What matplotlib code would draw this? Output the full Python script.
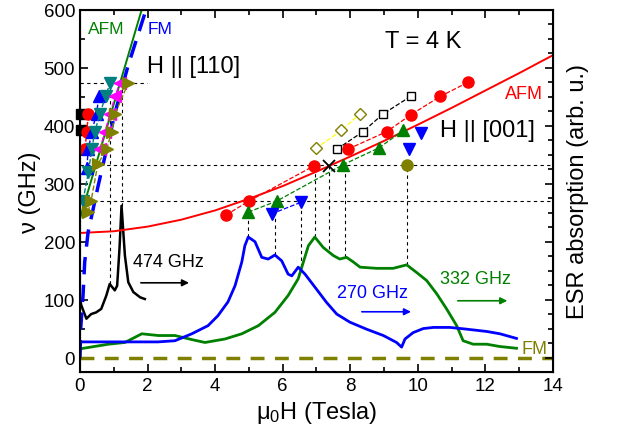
import numpy as np
import matplotlib.pyplot as plt
from matplotlib.ticker import MultipleLocator, AutoMinorLocator

plt.rcParams['font.family'] = ['Liberation Sans', 'DejaVu Sans']
plt.rcParams['mathtext.fontset'] = 'custom'
plt.rcParams['mathtext.rm'] = 'Liberation Sans'
plt.rcParams['mathtext.it'] = 'Liberation Sans'

# ---- ESR spectra (arb. u., same scale as frequency axis) ----
spec474_H = [0, 0.04, 0.19, 0.33, 0.48, 0.63, 0.78, 0.88, 1.03, 1.10, 1.17, 1.23, 1.33, 1.43, 1.58, 1.78, 1.92]
spec474_A = [101, 90, 67, 75, 78, 84, 107, 127, 116, 124, 188, 262, 176, 130, 113, 104, 101]

spec270_H = [0, 2.31, 2.81, 3.31, 3.79, 4.08, 4.38, 4.59, 4.79, 4.88, 4.98, 5.18, 5.38, 5.57,
             5.77, 5.97, 6.16, 6.27, 6.46, 6.66, 7.00, 7.30, 7.60, 7.99, 8.48, 8.98, 9.37,
             9.52, 9.62, 9.86, 10.16, 10.46, 10.95, 11.44, 12.04, 12.43, 12.92]
spec270_A = [27, 27, 29, 41, 55, 72, 96, 124, 165, 193, 208, 200, 173, 170,
             177, 167, 144, 141, 156, 144, 118, 95, 75, 61, 49, 38, 26,
             18, 32, 43, 50, 52, 52, 49, 45, 41, 33]

spec332_H = [0, 0.84, 1.33, 1.83, 2.32, 2.81, 3.31, 3.70, 4.29, 4.79, 5.28, 5.77, 6.16, 6.46,
             6.76, 6.95, 7.20, 7.50, 7.69, 7.89, 8.09, 8.29, 8.78, 9.27, 9.67, 9.96, 10.26,
             10.56, 10.85, 11.15, 11.34, 11.64, 12.04, 12.43, 12.92]
spec332_A = [15, 23, 26, 41, 38, 38, 31, 26, 32, 41, 55, 78, 107, 136,
             193, 208, 190, 176, 170, 173, 165, 156, 154, 154, 160, 147, 133,
             110, 84, 55, 29, 23, 23, 19, 16]

# ---- model branches ----
afm001_H = [0, 1, 2, 3, 4, 5, 6, 7, 8, 9, 10, 11, 12, 13, 14]
afm001_f = [215, 218, 226, 238, 254, 274, 296, 321, 347, 374, 402, 431, 461, 491, 522]
afm110_H = [0, 1.85]
afm110_f = [240, 605]
fm110_H = [0, 0.02, 0.09, 0.14, 0.24, 0.54, 0.79, 1.04, 1.43, 1.97]
fm110_f = [0, 49, 107, 165, 216, 297, 360, 423, 505, 603]
fm001_H = [0, 14]
fm001_f = [0, 0]

# ---- H || [110] resonance fields ----
teal_H = [0.09, 0.25, 0.35, 0.44, 0.59, 0.76, 0.89]
teal_f = [271, 320, 360, 390, 421, 451, 474]
bl110_H = [0.20, 0.25, 0.35, 0.49, 0.56]
bl110_f = [328, 360, 390, 421, 451]
mag_H = [0.59, 0.74, 0.89, 1.04, 1.18]
mag_f = [360, 390, 421, 451, 474]
ol110_H = [0.24, 0.33, 0.53, 0.79, 0.94, 1.04, 1.43]
ol110_f = [251, 271, 334, 360, 390, 421, 474]
rd110_H = [0.15, 0.20, 0.25]
rd110_f = [360, 390, 421]
sq110_H = [0.03, 0.03]
sq110_f = [392, 421]

# ---- H || [001] resonance fields ----
rdA_H = [4.32, 5.0, 6.93]
rdA_f = [246, 270, 331]
rdB_H = [7.94, 9.08, 9.79, 10.67, 11.48]
rdB_f = [360, 390, 419, 451, 475]
gr_H = [4.98, 5.82, 7.79, 8.85, 9.57]
gr_f = [251, 270, 333, 362, 392]
bd_H = [5.67, 6.54, 9.74, 10.08]
bd_f = [248, 268, 360, 388]
sq_H = [7.61, 8.38, 8.96, 9.79]
sq_f = [360, 390, 420, 451]
dm_H = [6.98, 7.74, 8.29]
dm_f = [361, 392, 421]
x_H, x_f = [7.38], [331]
oc_H, oc_f = [9.67], [332]

# guide lines
hl_f = [474, 332, 270]
hl_end = [1.97, 14, 14]
vl_H = [0.88, 1.23, 4.98, 5.77, 6.54, 6.95, 7.38, 7.84, 9.67]
vl_top = [474, 474, 270, 270, 268, 331, 331, 333, 332]
vl_bot = [127, 262, 208, 177, 156, 208, 188, 173, 160]

fig = plt.figure(figsize=(6.18, 4.39), dpi=100)
ax = fig.add_axes([0.1294, 0.1503, 0.7654, 0.8247])

dot = dict(color='k', lw=0.8, ls=(0, (3, 3)))
for f, e in zip(hl_f, hl_end):
    ax.plot([0, e], [f, f], **dot)
for h, t, b in zip(vl_H, vl_top, vl_bot):
    ax.plot([h, h], [b, t], **dot)

# spectra
ax.plot(spec332_H, spec332_A, color='#008000', lw=2)
ax.plot(spec270_H, spec270_A, color='#0000ff', lw=2)
ax.plot(spec474_H, spec474_A, color='k', lw=1.8)

# model curves
ax.plot(fm001_H, fm001_f, color='#808000', lw=2.5, ls=(0, (4, 3)))
ax.plot(afm001_H, afm001_f, color='#ff0000', lw=1.4)
ax.plot(afm110_H, afm110_f, color='#008000', lw=1.4)
ax.plot(fm110_H, fm110_f, color='#0000ff', lw=2.5, ls=(0, (5, 3)))

ms = 7
# H || [110] branches
ax.plot(sq110_H, sq110_f, 's', color='k', ms=ms, clip_on=False)
ax.plot(rd110_H, rd110_f, 'o--', color='#ff0000', ms=ms + 1, lw=1)
ax.plot(bl110_H, bl110_f, '^--', color='#0000ff', ms=ms + 1, lw=1)
ax.plot(teal_H, teal_f, 'v--', color='#008080', ms=ms + 1, lw=1)
ax.plot(mag_H, mag_f, '<--', color='#ff00ff', ms=ms + 1, lw=1)
ax.plot(ol110_H, ol110_f, '>--', color='#808000', ms=ms + 1, lw=1)

# H || [001] branches
ax.plot(rdA_H, rdA_f, 'o--', color='#ff0000', ms=ms + 1, lw=0.9)
ax.plot(rdB_H, rdB_f, 'o--', color='#ff0000', ms=ms + 1, lw=0.9)
ax.plot(gr_H, gr_f, '^--', color='#008000', ms=ms + 1, lw=0.9)
ax.plot(bd_H[:2], bd_f[:2], 'v--', color='#0000ff', ms=ms + 1, lw=0.9)
ax.plot(bd_H[2:], bd_f[2:], 'v', color='#0000ff', ms=ms + 1)
ax.plot(sq_H, sq_f, 's--', color='k', mfc='white', ms=ms - 1, lw=0.9)
ax.plot(dm_H, dm_f, 'D', color='#808000', mfc='white', ms=ms - 1)
ax.plot(dm_H, dm_f, '--', color='#ffff00', lw=0.9, zorder=1.9)
ax.plot(x_H, x_f, 'x', color='k', ms=ms + 2, mew=1.3)
ax.plot(oc_H, oc_f, 'o', color='#808000', ms=ms + 1)

# annotations
ax.text(0.24, 568, 'AFM', color='#008000', fontsize=12.5, va='center')
ax.text(2.01, 568, 'FM', color='#0000ff', fontsize=12.5, va='center')
ax.text(1.98, 504, 'H || [110]', fontsize=17, va='center')
ax.text(9.03, 546, 'T = 4 K', fontsize=17, va='center')
ax.text(12.58, 455, 'AFM', color='#ff0000', fontsize=13, va='center')
ax.text(10.65, 393, 'H || [001]', fontsize=17, va='center')
ax.text(1.57, 165, '474 GHz', fontsize=13, va='center')
ax.text(7.6, 113, '270 GHz', color='#0000ff', fontsize=13, va='center')
ax.text(10.65, 136, '332 GHz', color='#008000', fontsize=13, va='center')
ax.text(13.08, 15, 'FM', color='#808000', fontsize=13, va='center')

arr = dict(arrowstyle='-|>', lw=1.2, mutation_scale=10)
ax.annotate('', xy=(3.31, 129), xytext=(1.72, 129), arrowprops=dict(color='k', **arr))
ax.annotate('', xy=(9.88, 79), xytext=(8.26, 79), arrowprops=dict(color='#0000ff', **arr))
ax.annotate('', xy=(12.73, 98), xytext=(11.1, 98), arrowprops=dict(color='#008000', **arr))

ax.set_xlim(0, 14)
ax.set_ylim(-25, 600)
ax.xaxis.set_major_locator(MultipleLocator(2))
ax.xaxis.set_minor_locator(MultipleLocator(1))
ax.yaxis.set_major_locator(MultipleLocator(100))
ax.yaxis.set_minor_locator(MultipleLocator(50))
ax.tick_params(which='both', direction='in', top=True, labelsize=13.5, width=1.2)
ax.tick_params(which='major', length=6)
ax.tick_params(which='minor', length=3.5)
for s in ax.spines.values():
    s.set_linewidth(1.5)

ax.set_xlabel('μ$_0$H (Tesla)', fontsize=17, labelpad=4)
ax.set_ylabel('ν (GHz)', fontsize=17, labelpad=2)

# right-hand absorption axis
ax2 = ax.twinx()
ax2.set_ylim(-25, 600)
ax2.yaxis.set_major_locator(MultipleLocator(100))
ax2.yaxis.set_minor_locator(AutoMinorLocator(4))
ax2.tick_params(which='both', direction='in', labelright=False, width=1.2)
ax2.tick_params(which='major', length=6)
ax2.tick_params(which='minor', length=3.5)
ax2.set_ylabel('ESR absorption (arb. u.)', fontsize=17, labelpad=10)

fig.savefig('out.png', dpi=100)
